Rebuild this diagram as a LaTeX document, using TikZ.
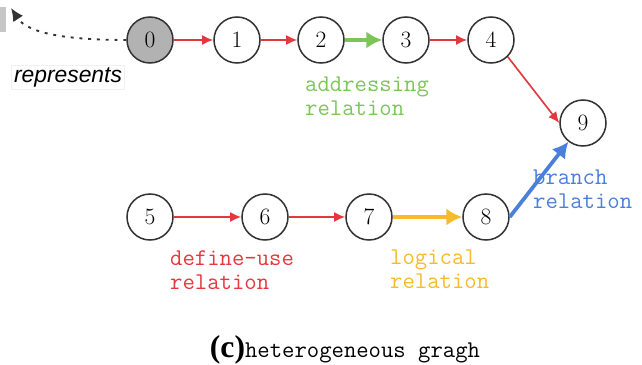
\documentclass[tikz,border=0pt]{standalone}
\usepackage{fontspec}
\usepackage{xcolor}
\usepackage{tikz}
\usetikzlibrary{calc}
\usetikzlibrary{arrows.meta}
\newfontfamily\repfont{Liberation Sans}
\newfontfamily\capfont{Liberation Serif}
\definecolor{dured}{HTML}{E2393E}
\definecolor{addrgreen}{HTML}{7CC657}
\definecolor{logicyellow}{HTML}{F6BB2C}
\definecolor{branchblue}{HTML}{4A80DA}
\definecolor{ringgray}{HTML}{333333}

\begin{document}
\begin{tikzpicture}[x=0.03cm, y=-0.03cm,
	stmt/.style={circle, draw=ringgray, line width=1.3pt, minimum size=1.38cm, inner sep=0pt, font=\fontsize{20}{24}\selectfont},
	reltext/.style={anchor=west, align=left, inner sep=0pt, font=\ttfamily\fontsize{20.5}{20.5}\selectfont},
	thinarr/.style={-{Latex[length=9.5pt,width=8.5pt]}, draw=dured, line width=1.4pt},
	thickarr/.style={-{Latex[length=13.5pt,width=14.5pt]}, line width=3.2pt}]
			\useasboundingbox (0,0) rectangle (642,365);
			%elements
			\fill [gray!45] (0,7) rectangle (6,32);
			\node at (150,40) (n0) [stmt, fill=gray!60] {0};
			\node at (237,40) (n1) [stmt] {1};
			\node at (321,40) (n2) [stmt] {2};
			\node at (406,40) (n3) [stmt] {3};
			\node at (491,40) (n4) [stmt] {4};
			\node at (583,123) (n9) [stmt] {9};
			\node at (150,217) (n5) [stmt] {5};
			\node at (265,217) (n6) [stmt] {6};
			\node at (369,217) (n7) [stmt] {7};
			\node at (486,217) (n8) [stmt] {8};

			%represents
			\coordinate (repend) at (11,8);
			\draw [-{Latex[length=11pt,width=10pt]}, dash pattern=on 2.5pt off 5pt, line width=1.6pt, ringgray] (n0.west) .. controls (70,40) and (28,34) .. (repend);
			\node at (68,77) (rep) [draw=gray!12, inner sep=2pt, font=\repfont\itshape\fontsize{19.5}{22}\selectfont] {represents};

			%edges
			\draw [thinarr] (n0) -- (n1);
			\draw [thinarr] (n1) -- (n2);
			\draw [thickarr, addrgreen] (n2) -- (n3);
			\draw [thinarr] (n3) -- (n4);
			\draw [thinarr] (n4.south east) -- (n9.west);
			\draw [thinarr] (n5) -- (n6);
			\draw [thinarr] (n6) -- (n7);
			\draw [thickarr, logicyellow] (n7) -- (n8);
			\draw [thickarr, branchblue] (n8.east) -- (n9);

			%relation names
			\node at (305,96) (addr) [reltext, text=addrgreen] {addressing\\relation};
			\node at (170,270) (defuse) [reltext, text=dured] {define-use\\relation};
			\node at (390,269) (logic) [reltext, text=logicyellow] {logical\\relation};
			\node at (533,189) (branch) [reltext, text=branchblue] {branch\\relation};

			%caption
			\node at (345,350) (cap) [] {{\capfont\bfseries\fontsize{27}{30}\selectfont (c)}{\ttfamily\fontsize{20.5}{22}\selectfont heterogeneous gragh}};
		\end{tikzpicture}
\end{document}
